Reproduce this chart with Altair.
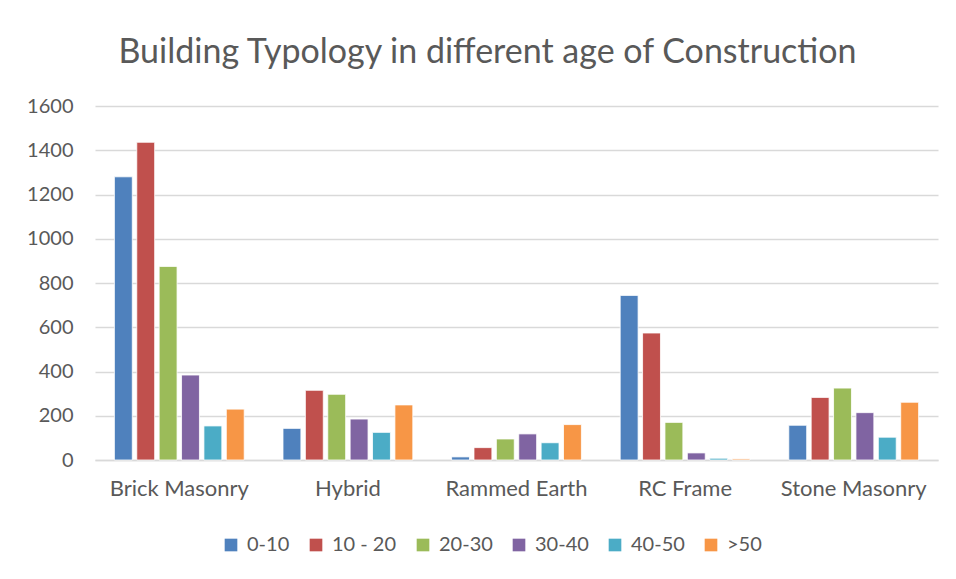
import altair as alt
import pandas as pd

categories = ["Brick Masonry", "Hybrid", "Rammed Earth", "RC Frame", "Stone Masonry"]
series = ["0-10", "10 - 20", "20-30", "30-40", "40-50", ">50"]
values = {
    "0-10":    [1280, 143, 14, 744, 157],
    "10 - 20": [1436, 315, 56, 574, 283],
    "20-30":   [875, 297, 95, 170, 325],
    "30-40":   [384, 185, 118, 32, 214],
    "40-50":   [154, 125, 78, 8, 103],
    ">50":     [230, 249, 160, 5, 261],
}
colors = ["#4F81BD", "#C0504D", "#9BBB59", "#8064A2", "#4BACC6", "#F79646"]

rows = []
for s in series:
    for c, v in zip(categories, values[s]):
        rows.append({"Type": c, "Age": s, "Count": v})
df = pd.DataFrame(rows)

FONT = "Lato"
GREY = "#595959"

chart = alt.Chart(df).mark_bar(stroke="white", strokeWidth=0.8).encode(
    x=alt.X("Type:N", sort=categories, title=None,
            scale=alt.Scale(paddingInner=0.23, paddingOuter=0.115),
            axis=alt.Axis(labelAngle=0, labelFontSize=22, labelColor=GREY, labelFont=FONT,
                          ticks=False, domainColor="#d9d9d9", domainWidth=1.3,
                          labelPadding=18)),
    xOffset=alt.XOffset("Age:N", sort=series, scale=alt.Scale(paddingInner=0.2)),
    y=alt.Y("Count:Q", title=None,
            scale=alt.Scale(domain=[0, 1600]),
            axis=alt.Axis(values=[0, 200, 400, 600, 800, 1000, 1200, 1400, 1600],
                          format="d",
                          labelFontSize=20, labelColor=GREY, labelFont=FONT,
                          ticks=False, domain=False, gridColor="#d9d9d9", gridWidth=1.3,
                          labelPadding=22)),
    color=alt.Color("Age:N", sort=series, title=None,
                    scale=alt.Scale(domain=series, range=colors),
                    legend=alt.Legend(orient="none", direction="horizontal",
                                      legendX=126, legendY=429,
                                      symbolType="square", symbolSize=160,
                                      symbolStrokeWidth=0, labelFontSize=20,
                                      labelColor=GREY, labelFont=FONT,
                                      labelOffset=6, columnPadding=16)),
).properties(
    width=843, height=354,
    title=alt.TitleParams("Building Typology in different age of Construction",
                          fontSize=34, font=FONT, color=GREY, fontWeight="normal",
                          anchor="middle", dx=-29, offset=26),
    autosize=alt.AutoSizeParams(type="none"),
    padding={"left": 87, "top": 98, "right": 10, "bottom": 110},
).configure_view(stroke=None)

chart.save("out.html", embed_options={"renderer": "svg", "actions": False})
